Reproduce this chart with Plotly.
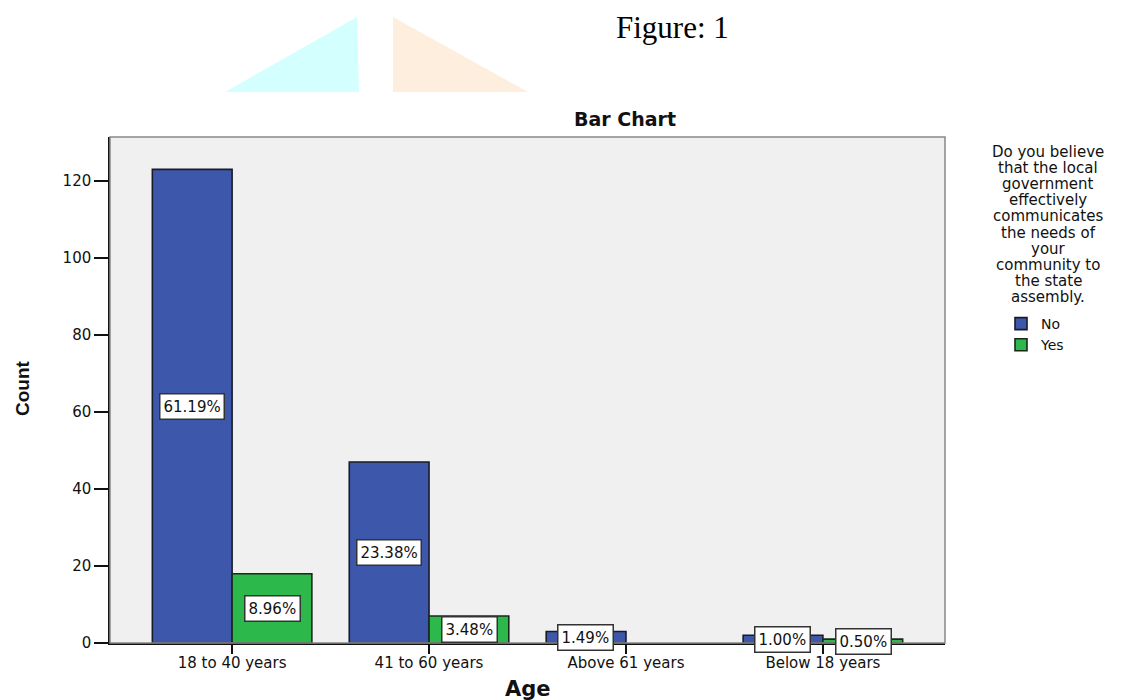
import plotly.graph_objects as go

# Survey counts by age group
age_groups = ["18 to 40 years", "41 to 60 years", "Above 61 years", "Below 18 years"]
no_counts = [123, 47, 3, 2]
yes_counts = [18, 7, 0, 1]
no_pct = ["61.19%", "23.38%", "1.49%", "1.00%"]
yes_pct = ["8.96%", "3.48%", None, "0.50%"]
y_ticks = [0, 20, 40, 60, 80, 100, 120]

legend_lines = ["Do you believe", "that the local", "government", "effectively",
                "communicates", "the needs of", "your", "community to",
                "the state", "assembly."]

BLUE = "#3d57aa"
GREEN = "#2db84b"
FONT = "DejaVu Sans, Verdana, sans-serif"

W, H = 1139, 700
L, R, T, B = 110, 194, 137, 57
PW, PH = W - L - R, H - T - B


def px(x):
    """page pixel x -> paper x"""
    return (x - L) / PW


def py(y):
    """page pixel y -> paper y"""
    return (H - B - y) / PH


def note(x, y, text, font, **kw):
    return dict(x=px(x), y=py(y), xref="paper", yref="paper", text=text,
                showarrow=False, xanchor="center", yanchor="middle", font=font, **kw)


fig = go.Figure()
fig.add_trace(go.Bar(
    x=age_groups, y=no_counts, name="No",
    marker=dict(color=BLUE, line=dict(color="#1a1a28", width=1.6)),
    offsetgroup="no",
))
fig.add_trace(go.Bar(
    x=age_groups, y=yes_counts, name="Yes",
    marker=dict(color=GREEN,
                line=dict(color="#1a281a", width=[1.6 if v else 0 for v in yes_counts])),
    offsetgroup="yes",
))

label_font = dict(family=FONT, size=15, color="#111")
annotations = []
# percentage labels centred at half bar height
for i, (n, p) in enumerate(zip(no_counts, no_pct)):
    if p:
        annotations.append(dict(x=i - 0.205, y=n / 2, xref="x", yref="y", text=p,
                                showarrow=False, bgcolor="white", bordercolor="#333",
                                borderwidth=1.5, borderpad=3, font=label_font))
for i, (n, p) in enumerate(zip(yes_counts, yes_pct)):
    if p:
        annotations.append(dict(x=i + 0.205, y=n / 2, xref="x", yref="y", text=p,
                                showarrow=False, bgcolor="white", bordercolor="#333",
                                borderwidth=1.5, borderpad=3, font=label_font))

annotations += [
    note(672, 28, "Figure: 1",
         dict(family="Liberation Serif, Times New Roman, serif", size=31, color="#000")),
    note(625, 119, "<b>Bar Chart</b>", dict(family=FONT, size=19, color="#111")),
    note(528, 689, "<b>Age</b>", dict(family=FONT, size=21, color="#111")),
    note(22, 388, "<b>Count</b>",
         dict(family="Liberation Sans Narrow, Arial Narrow, Liberation Sans, sans-serif",
              size=19, color="#111"), textangle=-90),
]
# legend heading, one centred line at a time
for k, line in enumerate(legend_lines):
    annotations.append(note(1048, 152 + 16.1 * k, line,
                            dict(family=FONT, size=15, color="#111")))

shapes = [
    dict(type="path", xref="paper", yref="paper",
         path="M {} {} L {} {} L {} {} Z".format(px(225), py(92), px(357), py(17),
                                                  px(359), py(92)),
         fillcolor="#d3ffff", line=dict(width=0), layer="below"),
    dict(type="path", xref="paper", yref="paper",
         path="M {} {} L {} {} L {} {} Z".format(px(393), py(17), px(393), py(92),
                                                  px(528), py(92)),
         fillcolor="#fdeedd", line=dict(width=0), layer="below"),
    # grey frame around the plot area
    dict(type="rect", xref="paper", yref="paper", x0=0, y0=0, x1=1, y1=1,
         line=dict(color="#888", width=1.5), layer="above"),
]

fig.update_layout(
    width=W, height=H,
    margin=dict(l=L, r=R, t=T, b=B),
    paper_bgcolor="white", plot_bgcolor="#f0f0f0",
    barmode="group", bargap=0.19, bargroupgap=0,
    font=dict(family=FONT, size=14, color="#111"),
    showlegend=True,
    legend=dict(x=px(1001), y=py(308), xref="paper", yref="paper",
                xanchor="left", yanchor="top", bgcolor="rgba(0,0,0,0)",
                font=dict(family=FONT, size=14, color="#111"),
                itemwidth=30, tracegroupgap=0, itemclick=False),
    annotations=annotations, shapes=shapes,
)
fig.update_xaxes(
    range=[-0.62, 3.62], showline=True, linecolor="#111", linewidth=1.5, mirror=False,
    ticks="outside", ticklen=9, tickcolor="#111", tickwidth=1.5, showgrid=False,
    ticklabelstandoff=-4,
    tickfont=dict(family=FONT, size=15, color="#111"),
)
fig.update_yaxes(
    range=[0, 131.4], tickvals=y_ticks, showline=True, linecolor="#111", linewidth=1.5,
    ticks="outside", ticklen=14, tickcolor="#111", tickwidth=1.5, showgrid=False,
    zeroline=False, tickfont=dict(family=FONT, size=15, color="#111"),
)

fig.write_html("out.html")
